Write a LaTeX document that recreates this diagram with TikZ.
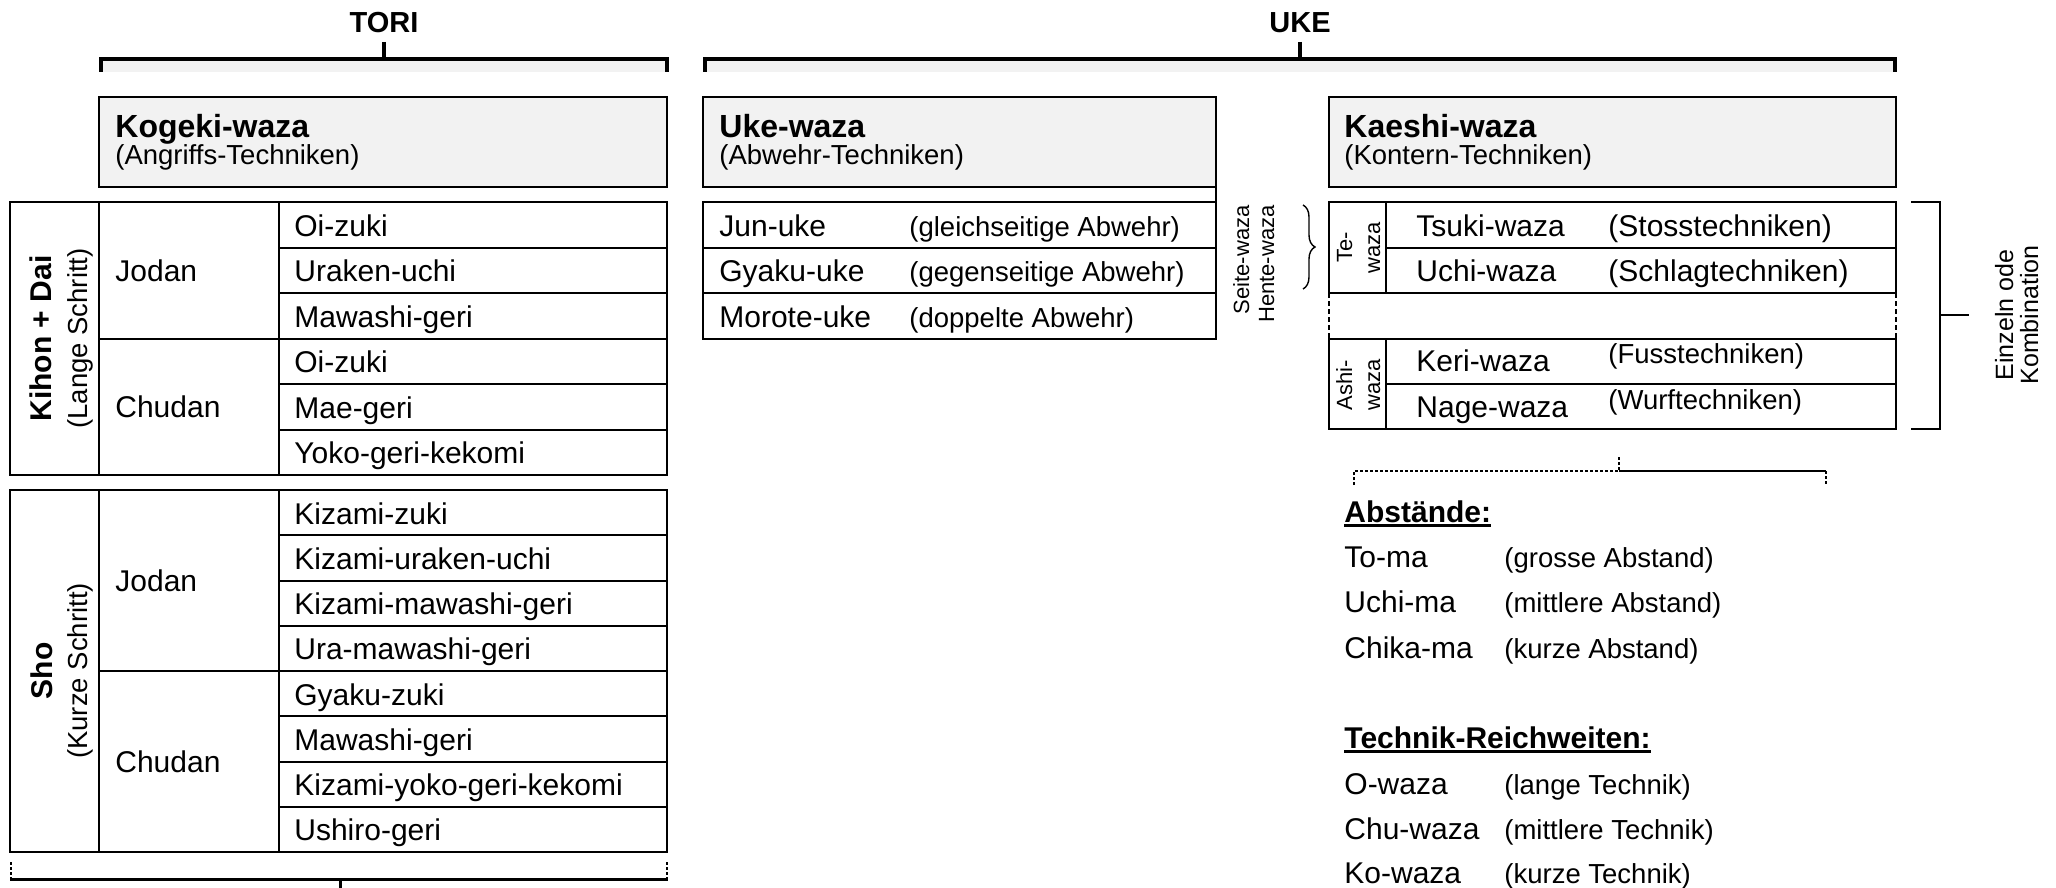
\documentclass[tikz,border=0pt]{standalone}
\usepackage{fontspec}
\setmainfont{Liberation Sans}
\usetikzlibrary{positioning, calc, decorations.pathreplacing}
\definecolor{headgray}{HTML}{F2F2F2}
\newcommand{\tbl}{\fontsize{15}{18}\selectfont}
\newcommand{\klam}{\fontsize{13.75}{16}\selectfont}
\newcommand{\klein}{\fontsize{11}{13}\selectfont}
\newcommand{\seite}{\fontsize{12.5}{15}\selectfont}
\tikzset{
	cell/.style={anchor=base west, inner sep=0pt, font=\tbl},
	note/.style={anchor=base west, inner sep=0pt, font=\klam},
	head/.style={anchor=base west, inner sep=0pt, font=\bfseries\fontsize{16}{19}\selectfont},
	side/.style={rotate=90, anchor=base, inner sep=0pt},
	grid line/.style={line width=1pt},
	bracket/.style={line width=2pt},
	thin dash/.style={line width=0.7pt, dash pattern=on 1.5pt off 1pt},
}
\begin{document}
\begin{tikzpicture}[x=0.5pt, y=-0.5pt]
			\useasboundingbox (0,0) rectangle (2056,888);
			% TORI and UKE brackets
			\node[font=\bfseries\fontsize{14.5}{17}\selectfont, inner sep=0pt] (tori) at (384,23) {TORI};
			\node[font=\bfseries\fontsize{14.5}{17}\selectfont, inner sep=0pt] (uke) at (1300,23) {UKE};
			\fill[headgray] (101,58.7) rectangle (666.5,72);
			\draw[bracket] (101,72) -- (101,58.7) -- (666.5,58.7) -- (666.5,72);
			\draw[bracket] (384,42) -- (384,58.7);
			\fill[headgray] (705,58.7) rectangle (1895,72);
			\draw[bracket] (705,72) -- (705,58.7) -- (1895,58.7) -- (1895,72);
			\draw[bracket] (1300,42) -- (1300,58.7);
			% header boxes
			\draw[grid line, fill=headgray] (99,97) rectangle (667,187);
			\node[head] (kogeki) at (115,138) {Kogeki-waza};
			\node[note] (kogekisub) at (115,164) {(Angriffs-Techniken)};
			\draw[grid line, fill=headgray] (703,97) rectangle (1216,187);
			\node[head] (ukewaza) at (719,138) {Uke-waza};
			\node[note] (ukesub) at (719,164) {(Abwehr-Techniken)};
			\draw[grid line, fill=headgray] (1329,97) rectangle (1896,187);
			\node[head] (kaeshi) at (1344,138) {Kaeshi-waza};
			\node[note] (kaeshisub) at (1344,164) {(Kontern-Techniken)};
			% Kihon + Dai table
			\draw[grid line] (10,202) rectangle (667,475);
			\draw[grid line] (99,202) -- (99,475);
			\draw[grid line] (279,202) -- (279,475);
			\draw[grid line] (99,338.5) -- (667,338.5);
			\draw[grid line] (279,247.5) -- (667,247.5);
			\draw[grid line] (279,293) -- (667,293);
			\draw[grid line] (279,384) -- (667,384);
			\draw[grid line] (279,429.5) -- (667,429.5);
			\node[side, font=\bfseries\tbl] (kihon) at (51,338.5) {Kihon + Dai};
			\node[side, font=\klam] (lange) at (87,338.5) {(Lange Schritt)};
			\node[cell] (kjodan) at (115,281) {Jodan};
			\node[cell] (kchudan) at (115,417.5) {Chudan};
			\node[cell] (k1) at (294,236) {Oi-zuki};
			\node[cell] (k2) at (294,281.5) {Uraken-uchi};
			\node[cell] (k3) at (294,327) {Mawashi-geri};
			\node[cell] (k4) at (294,372.5) {Oi-zuki};
			\node[cell] (k5) at (294,418) {Mae-geri};
			\node[cell] (k6) at (294,463.5) {Yoko-geri-kekomi};
			% Sho table
			\draw[grid line] (10,490) rectangle (667,852);
			\draw[grid line] (99,490) -- (99,852);
			\draw[grid line] (279,490) -- (279,852);
			\draw[grid line] (99,671) -- (667,671);
			\draw[grid line] (279,535.25) -- (667,535.25);
			\draw[grid line] (279,580.5) -- (667,580.5);
			\draw[grid line] (279,625.75) -- (667,625.75);
			\draw[grid line] (279,716.25) -- (667,716.25);
			\draw[grid line] (279,761.5) -- (667,761.5);
			\draw[grid line] (279,806.75) -- (667,806.75);
			\node[side, font=\bfseries\tbl] (sho) at (52,671) {Sho};
			\node[side, font=\klam] (kurze) at (87,671) {(Kurze Schritt)};
			\node[cell] (sjodan) at (115,591) {Jodan};
			\node[cell] (schudan) at (115,772) {Chudan};
			\node[cell] (s1) at (294,524) {Kizami-zuki};
			\node[cell] (s2) at (294,569.25) {Kizami-uraken-uchi};
			\node[cell] (s3) at (294,614.5) {Kizami-mawashi-geri};
			\node[cell] (s4) at (294,659.75) {Ura-mawashi-geri};
			\node[cell] (s5) at (294,705) {Gyaku-zuki};
			\node[cell] (s6) at (294,750.25) {Mawashi-geri};
			\node[cell] (s7) at (294,795.5) {Kizami-yoko-geri-kekomi};
			\node[cell] (s8) at (294,840.75) {Ushiro-geri};
			% bottom bracket
			\draw[thin dash] (11,862) -- (11,879);
			\draw[thin dash] (667,862) -- (667,879);
			\draw[line width=1.5pt] (10,879) -- (668,879);
			\draw[line width=1.5pt] (340,879) -- (340,888);
			% Uke-waza table
			\draw[grid line] (1216,187) -- (1216,202);
			\draw[grid line] (703,202) rectangle (1216,338.5);
			\draw[grid line] (703,247.5) -- (1216,247.5);
			\draw[grid line] (703,293) -- (1216,293);
			\node[cell] (jun) at (719,236) {Jun-uke};
			\node[note] (junsub) at (909,236) {(gleichseitige Abwehr)};
			\node[cell] (gyaku) at (719,281.5) {Gyaku-uke};
			\node[note] (gyakusub) at (909,281.5) {(gegenseitige Abwehr)};
			\node[cell] (morote) at (719,327) {Morote-uke};
			\node[note] (morotesub) at (909,327) {(doppelte Abwehr)};
			\node[side, anchor=base east, font=\klein] (seite) at (1249,205) {Seite-waza};
			\node[side, anchor=base east, font=\klein] (hente) at (1274,205) {Hente-waza};
			\draw[decorate, decoration={brace, amplitude=6pt}, line width=0.7pt] (1303,205) -- (1303,289);
			% Kaeshi-waza tables
			\draw[grid line] (1329,202) rectangle (1896,293);
			\draw[grid line] (1386,202) -- (1386,293);
			\draw[grid line] (1386,247.5) -- (1896,247.5);
			\node[side, font=\klein] (te) at (1352,247.5) {Te-};
			\node[side, font=\klein] (tewaza) at (1380,247.5) {waza};
			\node[cell] (tsuki) at (1416,236) {Tsuki-waza};
			\node[cell] (tsukisub) at (1608,236) {(Stosstechniken)};
			\node[cell] (uchi) at (1416,281.5) {Uchi-waza};
			\node[cell] (uchisub) at (1608,281.5) {(Schlagtechniken)};
			\draw[grid line, dash pattern=on 2.5pt off 1.5pt] (1329,293) -- (1329,338.5);
			\draw[grid line, dash pattern=on 2.5pt off 1.5pt] (1896,293) -- (1896,338.5);
			\draw[grid line] (1329,338.5) rectangle (1896,429);
			\draw[grid line] (1386,338.5) -- (1386,429);
			\draw[grid line] (1386,384) -- (1896,384);
			\node[side, font=\klein] (ashi) at (1352,385) {Ashi-};
			\node[side, font=\klein] (ashiwaza) at (1380,385) {waza};
			\node[cell] (keri) at (1416,371) {Keri-waza};
			\node[note] (kerisub) at (1608,363) {(Fusstechniken)};
			\node[cell] (nage) at (1416,417) {Nage-waza};
			\node[note] (nagesub) at (1608,409) {(Wurftechniken)};
			% Einzeln oder Kombination
			\draw[line width=1pt] (1911,202) -- (1940,202) -- (1940,429) -- (1911,429);
			\draw[line width=1pt] (1940,315) -- (1969,315);
			\node[side, font=\seite] (einzeln) at (2013,315) {Einzeln ode};
			\node[side, font=\seite] (kombi) at (2038,315) {Kombination};
			% lower bracket
			\draw[thin dash] (1354,485) -- (1354,471) -- (1619,471);
			\draw[line width=1pt] (1619,471) -- (1826,471);
			\draw[thin dash] (1826,471) -- (1826,485);
			\draw[thin dash] (1619,457) -- (1619,471);
			% Abstaende
			\node[cell, font=\bfseries\tbl] (abst) at (1344,522) {Abstände:};
			\draw[line width=1.4pt] ([yshift=-1.8pt]abst.base west) -- ([yshift=-1.8pt]abst.base east);
			\node[cell] (toma) at (1344,567) {To-ma};
			\node[note] (tomasub) at (1504,567) {(grosse Abstand)};
			\node[cell] (uchima) at (1344,612.5) {Uchi-ma};
			\node[note] (uchimasub) at (1504,612.5) {(mittlere Abstand)};
			\node[cell] (chika) at (1344,658) {Chika-ma};
			\node[note] (chikasub) at (1504,658) {(kurze Abstand)};
			% Technik-Reichweiten
			\node[cell, font=\bfseries\tbl] (reich) at (1344,748) {Technik-Reichweiten:};
			\draw[line width=1.4pt] ([yshift=-1.8pt]reich.base west) -- ([yshift=-1.8pt]reich.base east);
			\node[cell] (owaza) at (1344,794) {O-waza};
			\node[note] (owazasub) at (1504,794) {(lange Technik)};
			\node[cell] (chuwaza) at (1344,839) {Chu-waza};
			\node[note] (chuwazasub) at (1504,839) {(mittlere Technik)};
			\node[cell] (kowaza) at (1344,883) {Ko-waza};
			\node[note] (kowazasub) at (1504,883) {(kurze Technik)};
\end{tikzpicture}
\end{document}
